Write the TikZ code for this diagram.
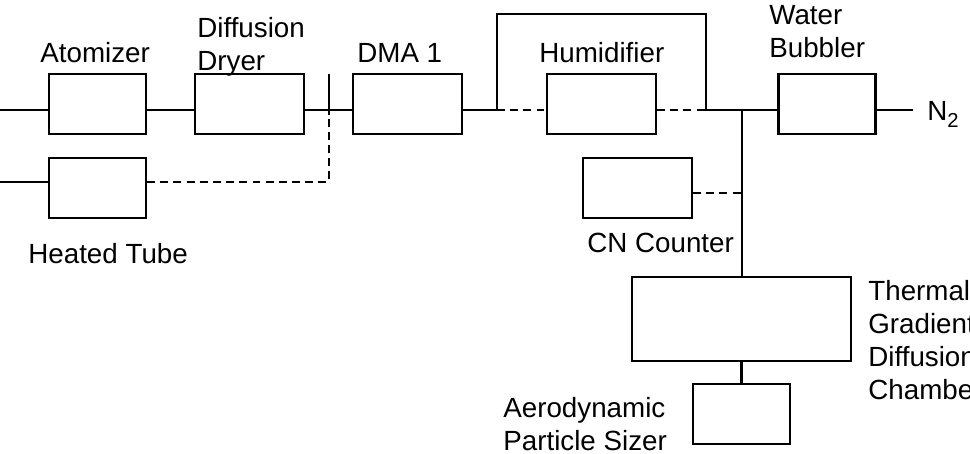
\documentclass[tikz,border=0pt]{standalone}
\usepackage{fontspec}
\setmainfont{Liberation Sans}
\usetikzlibrary{shapes}

\tikzset{
	unit/.style={draw=black, line width=1.3pt, minimum width=1.94cm, minimum height=1.2cm, inner sep=0pt},
	wideunit/.style={unit, minimum width=2.18cm},
	pipe/.style={line width=1.3pt},
	bleed/.style={line width=1.1pt, dash pattern=on 4.5pt off 3pt},
	tag/.style={anchor=base west, align=left, inner sep=0pt, font=\fontsize{15.8}{18.7}\selectfont}
}

\begin{document}
\begin{tikzpicture}[x=0.02cm, y=-0.02cm]
		\useasboundingbox (0,0) rectangle (970,453);
		% units
		\node[unit] (atom) at (97.5,104) {};
		\node[wideunit] (dryer) at (249.5,104) {};
		\node[wideunit] (dma) at (407.5,104) {};
		\node[unit] (heat) at (97.5,188) {};
		\node[wideunit] (hum) at (601.5,104) {};
		\node[unit] (bubbler) at (827,104) {};
		\node[wideunit] (cnc) at (637.5,188) {};
		\node[unit, minimum width=4.38cm, minimum height=1.68cm] (tgdc) at (741.5,319) {};
		\node[unit] (aps) at (741.5,414) {};
		% labels (base = last line)
		\node[tag] (atomlbl) at (40,62) {Atomizer};
		\node[tag] (dryerlbl) at (197,70) {Diffusion\\Dryer};
		\node[tag] (dmalbl) at (357,62) {DMA 1};
		\node[tag] (heatlbl) at (28,263) {Heated Tube};
		\node[tag] (humlbl) at (539,62) {Humidifier};
		\node[tag] (bubblerlbl) at (769,57) {Water\\Bubbler};
		\node[tag] (n2) at (927,120) {N\raisebox{-4.5pt}{\fontsize{11.5}{12}\selectfont 2}};
		\node[tag] (cnclbl) at (587,252) {CN Counter};
		\node[tag] (tgdclbl) at (868,399) {Thermal\\Gradient\\Diffusion\\Chamber};
		\node[tag] (apslbl) at (503,450) {Aerodynamic\\Particle Sizer};
		% points on the lines
		\coordinate (rail) at (0,110);
		\coordinate (in1) at (0,110);
		\coordinate (in2) at (0,182);
		\coordinate (valve) at (329,110);
		\coordinate (byl) at (497,110);
		\coordinate (byr) at (706,110);
		\coordinate (tee) at (742,110);
		\coordinate (out) at (913,110);
		% main line
		\draw[pipe] (in1) -- (atom.west |- rail);
		\draw[pipe] (atom.east |- rail) -- (dryer.west |- rail);
		\draw[pipe] (dryer.east |- rail) -- (dma.west |- rail);
		\draw[pipe] (valve) ++(0,-36) -- ++(0,41);
		\draw[pipe] (dma.east |- rail) -- (byl) -- ++(0,-96) -| (byr) -- (bubbler.west |- rail);
		\draw[bleed] (byl) -- (hum.west |- rail);
		\draw[bleed] (hum.east |- rail) -- (byr);
		\draw[pipe] (bubbler.east |- rail) -- (out);
		% heated tube branch
		\draw[pipe] (in2) -- (heat.west |- in2);
		\draw[bleed] (heat.east |- in2) -| (valve);
		% sampling branch
		\draw[pipe] (tee) -- (tee |- tgdc.north);
		\draw[pipe] (tgdc.south) -- (aps.north);
		\draw[bleed] ([yshift=-0.1cm]cnc.east) -- ([yshift=-0.1cm]cnc.east -| tee);
	\end{tikzpicture}
\end{document}
